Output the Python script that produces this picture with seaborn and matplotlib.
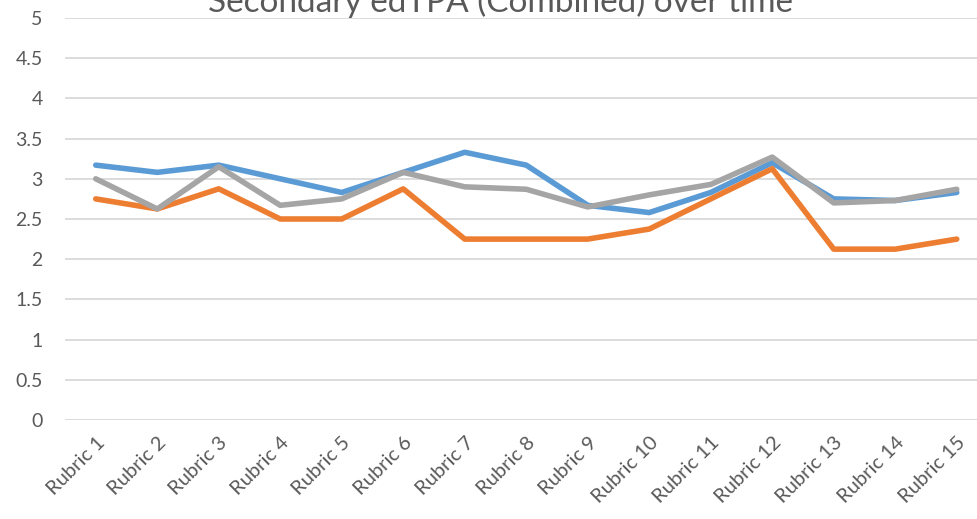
import numpy as np
import pandas as pd
import matplotlib
matplotlib.use("Agg")
import matplotlib.pyplot as plt
import seaborn as sns

# Dados
rubrics = [f"Rubric {i}" for i in range(1, 16)]
serie_azul = [3.17, 3.08, 3.17, 3.00, 2.83, 3.08, 3.33, 3.17, 2.67, 2.58, 2.83, 3.20, 2.75, 2.73, 2.83]
serie_laranja = [2.75, 2.625, 2.875, 2.50, 2.50, 2.875, 2.25, 2.25, 2.25, 2.375, 2.75, 3.125, 2.125, 2.125, 2.25]
serie_cinza = [3.00, 2.625, 3.15, 2.67, 2.75, 3.08, 2.90, 2.87, 2.65, 2.80, 2.93, 3.27, 2.70, 2.73, 2.87]
series_nomes = ["Series 1", "Series 2", "Series 3"]
cores = ["#5B9BD5", "#ED7D31", "#A5A5A5"]
titulo = "Secondary edTPA (Combined) over time"

sns.set_theme(style="white")
plt.rcParams['font.family'] = ['Lato', 'DejaVu Sans']

df = pd.DataFrame({
    "rubric": rubrics * 3,
    "score": serie_azul + serie_laranja + serie_cinza,
    "serie": np.repeat(series_nomes, len(rubrics)),
})

fig = plt.figure(figsize=(9.78, 5.19), dpi=100)
ax = fig.add_axes([65 / 978, 99 / 519, 922.5 / 978, 402 / 519])

sns.lineplot(data=df, x="rubric", y="score", hue="serie", palette=cores,
             linewidth=4.0, legend=False, ax=ax, sort=False)

ax.set_xlim(-0.5, 14.5)
ax.set_ylim(0, 5)
ax.set_yticks(np.arange(0, 5.01, 0.5))
ax.set_yticklabels([f"{v:g}" for v in np.arange(0, 5.01, 0.5)])
ax.yaxis.grid(True, color="#D9D9D9", linewidth=1.3)
ax.set_axisbelow(True)
for s in ax.spines.values():
    s.set_visible(False)
ax.set_xlabel("")
ax.set_ylabel("")
ax.tick_params(axis="y", length=0, pad=16, labelsize=14, labelcolor="#595959")
ax.tick_params(axis="x", length=0, pad=10, labelsize=14.5, labelcolor="#595959")
plt.setp(ax.get_xticklabels(), rotation=45, ha="right", rotation_mode="anchor")

fig.text(0.512, 1 - 12 / 519, titulo, ha="center", va="baseline",
         fontsize=24, color="#595959")

fig.savefig("out.png", dpi=100)
